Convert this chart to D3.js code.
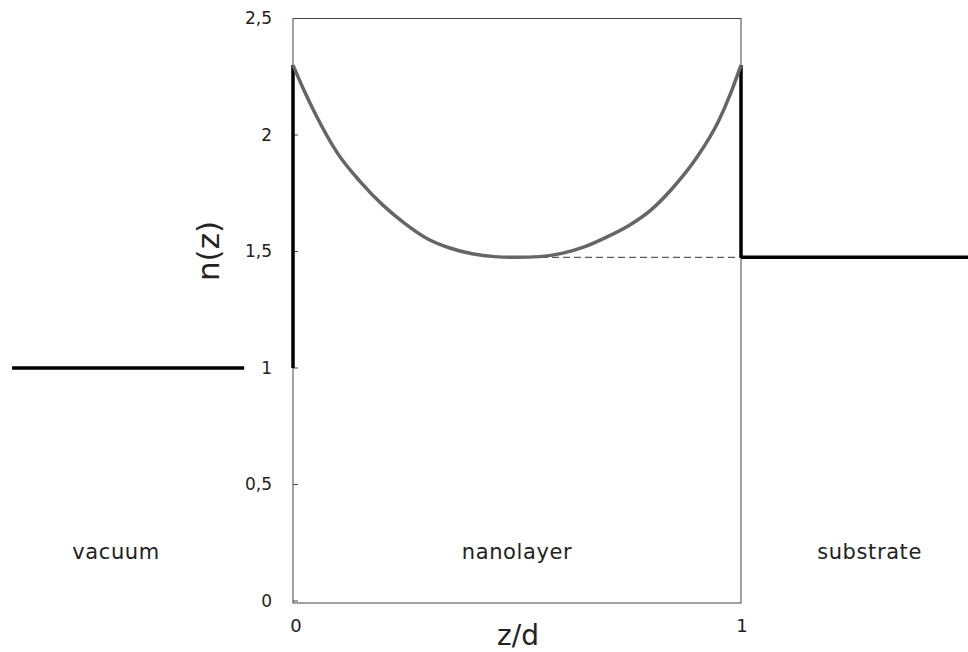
<!DOCTYPE html>
<html>
<head>
<meta charset="utf-8">
<script src="https://cdn.jsdelivr.net/npm/d3@7"></script>
<style>
body { margin: 0; background: #fff; }
text { font-family: "DejaVu Sans", sans-serif; fill: #222; }
</style>
</head>
<body>
<svg id="chart" width="968" height="652"></svg>
<script>
// profile of n(z) inside the nanolayer
var zVals = [0, 0.025, 0.05, 0.1, 0.15, 0.2, 0.25, 0.3, 0.35, 0.4, 0.45, 0.5, 0.55, 0.6, 0.65, 0.7, 0.75, 0.8, 0.85, 0.9, 0.95, 0.975, 1];
var nVals = [2.30, 2.19, 2.09, 1.92, 1.80, 1.70, 1.62, 1.555, 1.515, 1.49, 1.478, 1.475, 1.478, 1.492, 1.52, 1.562, 1.612, 1.68, 1.778, 1.90, 2.06, 2.17, 2.30];

// step levels
var nVacuum = 1;
var nSubstrate = 1.475;
var nPeak = 2.3;
var vacuumZ = [-0.627, -0.109];
var substrateZ = [1, 1.51];
var dashZ = [0.48, 1];

var yTicks = [0, 0.5, 1, 1.5, 2, 2.5];
var yTickLabels = ["0", "0,5", "1", "1,5", "2", "2,5"];
var xTicks = [0, 1];
var regionLabels = ["vacuum", "nanolayer", "substrate"];
var regionZ = [-0.395, 0.5, 1.287];

var svg = d3.select("#chart");
var x = d3.scaleLinear().domain([0, 1]).range([293, 741]);
var y = d3.scaleLinear().domain([0, 2.5]).range([601, 18.5]);

// frame
svg.append("rect")
    .attr("x", x(0)).attr("y", y(2.5))
    .attr("width", x(1) - x(0)).attr("height", 603 - y(2.5))
    .attr("fill", "none").attr("stroke", "#444").attr("stroke-width", 1);

// y ticks
svg.selectAll(".ytick").data(yTicks).enter().append("line")
    .attr("x1", x(0)).attr("x2", x(0) + 5)
    .attr("y1", function (d) { return y(d); }).attr("y2", function (d) { return y(d); })
    .attr("stroke", "#444");
svg.selectAll(".ylab").data(yTicks).enter().append("text")
    .attr("x", 272).attr("y", function (d) { return y(d); })
    .attr("dy", "0.35em").attr("text-anchor", "end").attr("font-size", 17)
    .text(function (d, i) { return yTickLabels[i]; });

// x tick labels
svg.selectAll(".xlab").data(xTicks).enter().append("text")
    .attr("x", function (d) { return x(d) + (d == 0 ? 3 : 1); }).attr("y", 632)
    .attr("text-anchor", "middle").attr("font-size", 18)
    .text(function (d) { return d; });

// axis titles
svg.append("text").attr("x", 518).attr("y", 645).attr("text-anchor", "middle")
    .attr("font-size", 28).text("z/d");
svg.append("text").attr("transform", "translate(219,251) rotate(-90)")
    .attr("text-anchor", "middle").attr("font-size", 31).text("n(z)");

// dashed level
svg.append("line")
    .attr("x1", x(dashZ[0])).attr("x2", x(dashZ[1]))
    .attr("y1", y(nSubstrate)).attr("y2", y(nSubstrate))
    .attr("stroke", "#333").attr("stroke-width", 1).attr("stroke-dasharray", "7,4");

// black step segments
var steps = [
    [[vacuumZ[0], nVacuum], [vacuumZ[1], nVacuum]],
    [[0, nVacuum], [0, nPeak]],
    [[1, nSubstrate], [1, nPeak]],
    [[substrateZ[0], nSubstrate], [substrateZ[1], nSubstrate]]
];
var line = d3.line().x(function (d) { return x(d[0]); }).y(function (d) { return y(d[1]); });
svg.selectAll(".step").data(steps).enter().append("path")
    .attr("d", line).attr("fill", "none").attr("stroke", "#000").attr("stroke-width", 3.5);

// profile curve
var curve = d3.line()
    .x(function (d, i) { return x(zVals[i]); })
    .y(function (d) { return y(d); })
    .curve(d3.curveMonotoneX);
svg.append("path").datum(nVals)
    .attr("d", curve).attr("fill", "none")
    .attr("stroke", "#666").attr("stroke-width", 3.5);

// region labels
svg.selectAll(".region").data(regionLabels).enter().append("text")
    .attr("x", function (d, i) { return x(regionZ[i]); }).attr("y", 559)
    .attr("text-anchor", "middle").attr("font-size", 21).attr("letter-spacing", 0.6)
    .text(function (d) { return d; });
</script>
</body>
</html>
